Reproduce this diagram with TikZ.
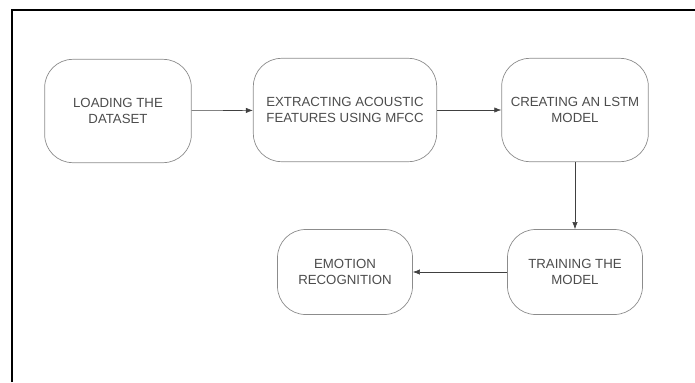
\documentclass[tikz,border=0pt]{standalone}
\usepackage{fontspec}
\setmainfont{Liberation Sans}
\usetikzlibrary{arrows.meta}

\begin{document}
\begin{tikzpicture}[x=0.03cm,y=-0.03cm,
		stepbox/.style={draw=black!45,line width=0.6pt,rounded corners=24pt,
			minimum width=4.4cm,minimum height=3.1cm,align=center,
			text=black!70,font=\fontsize{11.3}{14}\selectfont},
		flow/.style={draw=black!75,line width=0.5pt,-{Latex[length=6pt,width=4.5pt]}}]
		\useasboundingbox (0,0) rectangle (695,382);
		\draw[line width=1.7pt] (12,382) -- (12,10) -- (695,10);

		\node[stepbox] (load) at (118,111) {LOADING THE\\DATASET};
		\node[stepbox,minimum width=5.5cm] (extract) at (345,110) {EXTRACTING ACOUSTIC\\FEATURES USING MFCC};
		\node[stepbox] (lstm) at (575,110) {CREATING AN LSTM\\MODEL};
		\node[stepbox,minimum width=4.05cm,minimum height=2.55cm] (train) at (575,272) {TRAINING THE\\MODEL};
		\node[stepbox,minimum width=4.05cm,minimum height=2.55cm] (emotion) at (345,272) {EMOTION\\RECOGNITION};

		\draw[flow] (load) -- (extract);
		\draw[flow] (extract.east) -- (lstm.west);
		\draw[flow] (lstm) -- (train);
		\draw[flow] (train) -- (emotion);
	
\end{tikzpicture}
\end{document}
